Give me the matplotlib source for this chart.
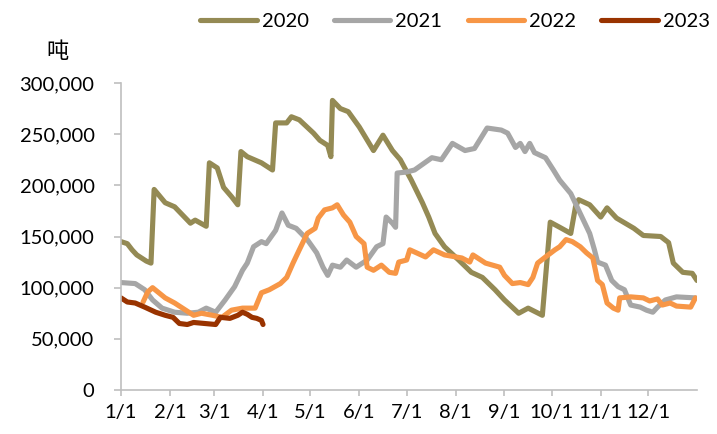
import matplotlib.pyplot as plt
from matplotlib.ticker import FuncFormatter

# day of year (0 = 1/1) and stock in tonnes
days_2020 = [0, 4, 7, 10, 16, 19, 21, 28, 34, 39, 44, 47, 54, 56, 61, 65, 70, 74, 76, 80,
             89, 96, 98, 105, 108, 113, 122, 126, 131, 133, 134, 139, 144, 151, 160, 166,
             172, 177, 184, 191, 195, 199, 205, 214, 222, 229, 237, 243, 252, 258, 267,
             272, 278, 285, 288, 290, 297, 304, 308, 314, 325, 331, 342, 347, 350, 356,
             362, 365]
vals_2020 = [145000, 143000, 137000, 132000, 126000, 124000, 196000, 183000, 179000, 171000,
             163000, 166000, 160000, 222000, 217000, 198000, 189000, 181000, 233000, 228000,
             222000, 215000, 261000, 261000, 267000, 264000, 251000, 244000, 239000, 228000,
             283000, 275000, 272000, 257000, 234000, 249000, 234000, 225000, 205000, 183000,
             169000, 153000, 140000, 127000, 115000, 110000, 98000, 88000, 75000, 80000,
             73000, 164000, 159000, 153000, 179000, 186000, 181000, 169000, 178000, 168000,
             158000, 151000, 150000, 144000, 124000, 115000, 114000, 107000]

days_2021 = [0, 9, 15, 20, 26, 34, 42, 49, 54, 60, 66, 72, 77, 80, 84, 89, 92, 98, 102, 106,
             111, 118, 124, 128, 131, 134, 139, 143, 149, 156, 162, 166, 168, 172, 174, 175,
             181, 186, 197, 203, 210, 218, 224, 232, 241, 245, 250, 253, 256, 259, 262, 269,
             274, 278, 285, 289, 293, 297, 300, 302, 307, 311, 315, 319, 323, 329, 333, 337,
             340, 345, 352, 364]
vals_2021 = [105000, 104000, 98000, 88000, 80000, 76000, 75000, 76000, 80000, 76000,
             88000, 101000, 117000, 124000, 140000, 145000, 143000, 156000, 173000, 161000,
             158000, 147000, 134000, 120000, 112000, 122000, 120000, 127000, 120000, 127000,
             140000, 143000, 169000, 163000, 159000, 212000, 213000, 215000, 227000, 225000,
             241000, 234000, 236000, 256000, 254000, 251000, 237000, 241000, 233000, 241000,
             232000, 227000, 215000, 205000, 192000, 179000, 166000, 153000, 137000, 125000,
             122000, 107000, 101000, 98000, 83000, 81000, 78000, 76000, 81000, 88000,
             91000, 90000]

days_2022 = [14, 17, 20, 28, 34, 41, 46, 51, 58, 64, 70, 77, 85, 89, 94, 101, 105, 109, 113,
             118, 123, 125, 129, 134, 137, 141, 145, 149, 154, 156, 160, 165, 170, 174, 176,
             181, 183, 193, 198, 205, 216, 221, 223, 231, 240, 243, 248, 253, 258, 261, 264,
             269, 275, 278, 282, 286, 291, 295, 299, 302, 305, 308, 312, 315, 316, 323, 331,
             335, 340, 343, 348, 352, 361, 364]
vals_2022 = [86000, 96000, 100000, 90000, 85000, 78000, 73000, 75000, 73000, 71000,
             78000, 80000, 80000, 95000, 98000, 104000, 110000, 124000, 137000, 153000,
             158000, 168000, 176000, 178000, 181000, 171000, 164000, 150000, 143000, 120000,
             117000, 122000, 115000, 114000, 125000, 127000, 137000, 130000, 137000, 132000,
             129000, 125000, 132000, 124000, 120000, 112000, 104000, 105000, 103000, 110000,
             124000, 130000, 137000, 140000, 147000, 145000, 140000, 134000, 129000, 107000,
             103000, 85000, 80000, 78000, 90000, 91000, 90000, 87000, 89000, 83000,
             85000, 82000, 81000, 90000]

days_2023 = [0, 4, 9, 15, 22, 28, 33, 37, 42, 46, 53, 60, 63, 69, 74, 77, 80, 83, 86, 89, 90]
vals_2023 = [90000, 86000, 85000, 81000, 76000, 73000, 71000, 65000, 64000, 66000, 65000,
             64000, 71000, 70000, 73000, 76000, 74000, 71000, 70000, 68000, 64000]

month_starts = [0, 31, 59, 90, 120, 151, 181, 212, 243, 273, 304, 334]
month_labels = ["1/1", "2/1", "3/1", "4/1", "5/1", "6/1", "7/1", "8/1", "9/1", "10/1", "11/1", "12/1"]

plt.rcParams['font.family'] = ['Lato', 'Noto Sans CJK SC', 'DejaVu Sans']

fig = plt.figure(figsize=(7.17, 4.34), dpi=100)
ax = fig.add_axes([121 / 717, 44 / 434, 576 / 717, 307 / 434])

series = [
    ("2020", days_2020, vals_2020, "#948A54"),
    ("2021", days_2021, vals_2021, "#A6A6A6"),
    ("2022", days_2022, vals_2022, "#F79646"),
    ("2023", days_2023, vals_2023, "#993300"),
]
for name, d, v, c in series:
    ax.plot(d, v, color=c, lw=3.7, label=name,
            solid_capstyle="round", solid_joinstyle="round")

ax.set_xlim(0, 365)
ax.set_ylim(0, 300000)
ax.set_xticks(month_starts)
ax.set_xticklabels(month_labels)
ax.set_yticks(range(0, 300001, 50000))
ax.yaxis.set_major_formatter(FuncFormatter(lambda v, p: f"{int(v):,}"))

for s in ["top", "right"]:
    ax.spines[s].set_visible(False)
for s in ["left", "bottom"]:
    ax.spines[s].set_color("#BFBFBF")
    ax.spines[s].set_linewidth(1.2)
ax.tick_params(axis="y", direction="out", length=5, width=1.2, color="#BFBFBF",
               labelsize=14.5, pad=14)
ax.tick_params(axis="x", direction="out", length=4, width=1.2, color="#BFBFBF",
               labelsize=14.5, pad=6)

fig.text(58 / 717, 1 - 52 / 434, "吨", ha="center", va="center", fontsize=16,
         family=["Noto Sans CJK SC", "DejaVu Sans"])

fig.legend(loc="center", bbox_to_anchor=(455 / 717, 1 - 21 / 434), ncol=4,
           frameon=False, fontsize=14.5, handlelength=2.8, handletextpad=0.25,
           columnspacing=1.25, borderaxespad=0)

fig.savefig("out.png", dpi=100)
